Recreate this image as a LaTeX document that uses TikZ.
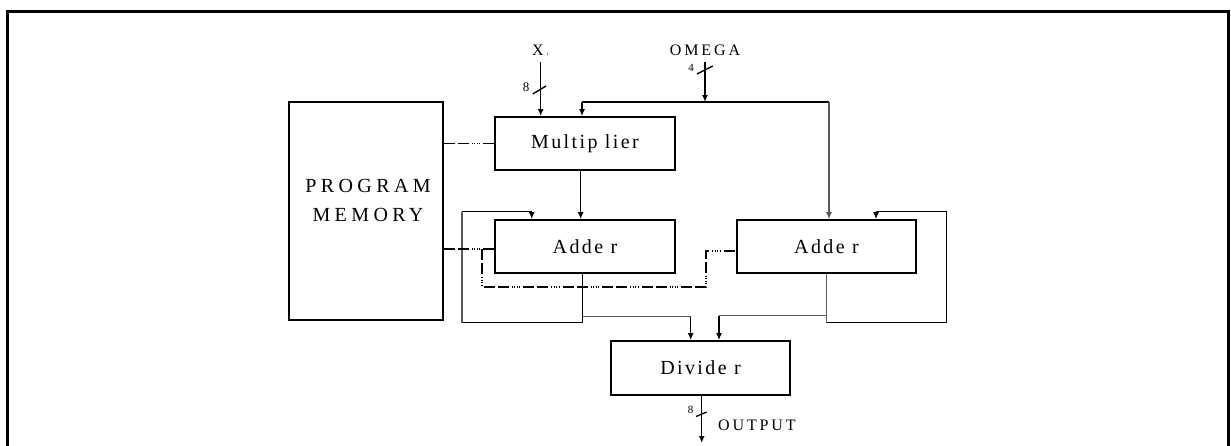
\documentclass[tikz,border=0pt]{standalone}
\usepackage{fontspec}
\setmainfont{Liberation Serif}
\newfontfamily\boxfont[LetterSpace=12]{Liberation Serif}
\newfontfamily\memfont[LetterSpace=22]{Liberation Serif}
\newfontfamily\lblfont[LetterSpace=18]{Liberation Serif}
\usetikzlibrary{arrows.meta,calc}
\begin{document}
\begin{tikzpicture}[x=1pt,y=-1pt,
  blk/.style={draw, line width=1.8pt, minimum height=53pt, inner sep=0pt, font=\boxfont\fontsize{20}{24}\selectfont},
  conn/.style={line width=1.5pt},
  thinln/.style={line width=1.1pt, draw=black!65},
  arr/.style={-{Latex[length=7pt,width=6pt]}},
  ctrl/.style={line width=1.6pt, dash pattern=on 11pt off 3pt on 11pt off 3pt on 1pt off 1.5pt on 1pt off 1.5pt on 1pt off 1.5pt on 1pt off 3pt},
  lbl/.style={inner sep=0pt, font=\lblfont\fontsize{16}{18}\selectfont},
  num/.style={inner sep=0pt, font=\fontsize{11}{12}\selectfont}
]
\useasboundingbox (0,0) rectangle (1231,445);
% frame
\draw[line width=3pt] (7,460) -- (7,11) -- (1228,11) -- (1228,460);

% blocks
\node[blk, minimum width=180pt] (mult) at (585,143.5) {Multip lier};
\node[blk, minimum width=180pt] (la) at (585,246.5) {Adde r};
\node[blk, minimum width=179pt] (ra) at (826.5,246.5) {Adde r};
\node[blk, minimum width=179pt, minimum height=54pt] (div) at (700.5,368) {Divide r};
\node[draw, line width=1.8pt, minimum width=154pt, minimum height=218pt, inner sep=0pt] (mem) at (366,211) {};
\node[anchor=base, inner sep=0pt, font=\memfont\fontsize{20}{24}\selectfont] (prog) at (368,192.7) {PROGRAM};
\node[anchor=base, inner sep=0pt, font=\memfont\fontsize{20}{24}\selectfont] (memo) at (368,221.7) {MEMORY};

% labels
\node[anchor=base west, lbl] (xlab) at (532,55) {X\hspace{3pt}{\fontsize{5}{5}\selectfont i}};
\node[anchor=base, lbl] (omlab) at (705,55) {OMEGA};
\node[num, font=\fontsize{13}{14}\selectfont] (n8a) at (526,87) {8};
\node[num] (n4) at (691,68) {4};
\node[num] (n8b) at (690.5,410) {8};
\node[anchor=base west, lbl] (outlab) at (718,430) {OUTPUT};

% coordinates
\coordinate (xin) at (540.7,62);
\coordinate (omin) at (705,62);
\coordinate (busL) at (582,102);
\coordinate (busR) at (829,102);
\coordinate (m2a) at (580.7,170);
\coordinate (laB) at (582.7,322.7);
\coordinate (laL) at (462,322.7);
\coordinate (laTL) at (462,211.5);
\coordinate (laT) at (531.7,211.5);
\coordinate (laD) at (582.7,316.5);
\coordinate (laD2) at (690.7,316.5);
\coordinate (raB) at (826.7,322.7);
\coordinate (raR) at (946.7,322.7);
\coordinate (raTR) at (946.7,211.7);
\coordinate (raT) at (876,211.7);
\coordinate (raD) at (826.7,315.7);
\coordinate (raD2) at (719,315.7);
\coordinate (out) at (701.7,443);
\coordinate (cb) at (482,249);
\coordinate (cbot) at (482,287);
\coordinate (cbr) at (706,287);
\coordinate (cup) at (706,250.7);

% inputs
\draw[conn,arr] (xin) -- (xin |- mult.north);
\draw[conn,arr] (omin) -- (omin |- busR);
\draw[conn] (busR) -- (busL);
\draw[conn,arr] (busL) -- (busL |- mult.north);
\draw[thinln,arr] (busR) -- (busR |- ra.north);
% bus-width slashes
\draw[line width=1.4pt] (532.7,94) -- (546,86);
\draw[line width=1.4pt] (697,74) -- (712.7,66);
\draw[line width=1.3pt] (696,416.5) -- (706.7,412);

% multiplier to adder
\draw[conn,arr] (m2a |- mult.south) -- (m2a |- la.north);

% left adder feedback
\draw[conn] (la.south -| laB) -- (laB) -- (laL);
\draw[thinln] (laL) -- (laTL);
\draw[conn] (laTL) -- (laT);
\draw[conn,arr] (laT) -- (laT |- la.north);
% left adder to divider
\draw[thinln] (laD) -- (laD2);
\draw[conn,arr] (laD2) -- (laD2 |- div.north);

% right adder feedback
\draw[thinln] (ra.south -| raB) -- (raB);
\draw[conn] (raB) -- (raR) -- (raTR) -- (raT);
\draw[conn,arr] (raT) -- (raT |- ra.north);
% right adder to divider
\draw[thinln] (raD) -- (raD2);
\draw[conn,arr] (raD2) -- (raD2 |- div.north);

% output
\draw[conn,arr] (div.south -| out) -- (out);

% control lines
\draw[ctrl] (mult.west -| mem.east) -- (mult.west);
\draw[ctrl] (cb -| mem.east) -- (cb -| la.west);
\draw[ctrl] (cb) -- (cbot) -- (cbr) -- (cup) -- (cup -| ra.west);
\end{tikzpicture}
\end{document}
